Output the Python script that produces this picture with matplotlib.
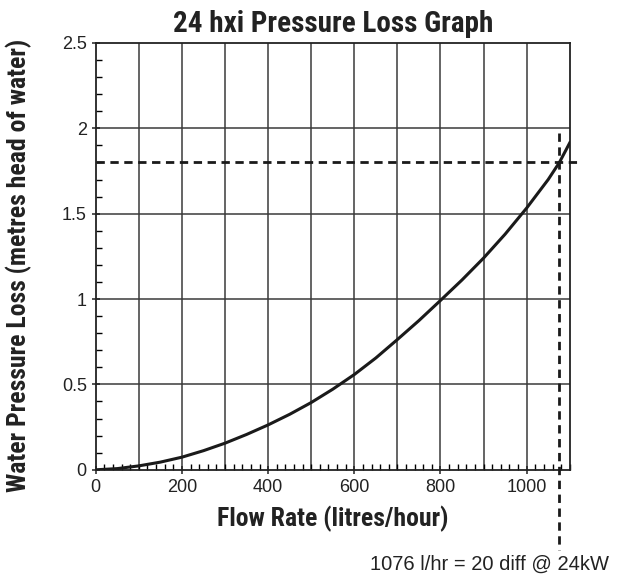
import matplotlib
matplotlib.use("Agg")
import matplotlib.pyplot as plt
from matplotlib.ticker import MultipleLocator, FormatStrFormatter

# values (flow in l/hr, loss in metres head of water)
flow = [0, 50, 100, 150, 200, 250, 300, 350, 400, 450, 500, 550, 600, 650, 700,
        750, 800, 850, 900, 950, 1000, 1050, 1076, 1100]
loss = [0, 0.007, 0.023, 0.045, 0.074, 0.112, 0.156, 0.207, 0.263, 0.325, 0.394,
        0.472, 0.558, 0.655, 0.763, 0.874, 0.992, 1.112, 1.24, 1.38, 1.533, 1.70,
        1.80, 1.915]

duty_flow = 1076
duty_loss = 1.8
note = "1076 l/hr = 20 diff @ 24kW"

bold_font = ["Roboto Condensed", "Roboto", "DejaVu Sans"]
plain_font = ["Liberation Sans", "DejaVu Sans"]

fig = plt.figure(figsize=(6.22, 5.8), dpi=100)
ax = fig.add_axes([0.154, 0.19, 0.762, 0.736])

ax.plot(flow, loss, color="#1a1a1a", linewidth=2.2, zorder=3)

# duty point dashed lines, both run past the plot frame
ax.plot([0, 1121], [duty_loss, duty_loss], color="#1a1a1a", linewidth=2,
        dashes=(3, 2), clip_on=False, zorder=3)
ax.plot([duty_flow, duty_flow], [1.97, -0.47], color="#1a1a1a", linewidth=2,
        dashes=(3, 2), clip_on=False, zorder=3)

ax.set_xlim(0, 1100)
ax.set_ylim(0, 2.5)
ax.xaxis.set_major_locator(MultipleLocator(200))
ax.xaxis.set_minor_locator(MultipleLocator(20))
ax.yaxis.set_major_locator(MultipleLocator(0.5))
ax.yaxis.set_minor_locator(MultipleLocator(0.1))
ax.yaxis.set_major_formatter(FormatStrFormatter("%g"))

# grid every 100 on x, every 0.5 on y
for gx in range(100, 1100, 100):
    ax.axvline(gx, color="#3a3a3a", linewidth=1.1, zorder=1)
for gy in [0.5, 1.0, 1.5, 2.0]:
    ax.axhline(gy, color="#3a3a3a", linewidth=1.1, zorder=1)

for s in ax.spines.values():
    s.set_linewidth(1.3)
    s.set_color("#222222")

ax.tick_params(which="major", direction="inout", length=6, width=1.1,
               labelsize=13, colors="#222222")
ax.tick_params(which="minor", direction="in", length=4, width=1)
ax.tick_params(which="both", top=False, right=False)
for lbl in ax.get_xticklabels() + ax.get_yticklabels():
    lbl.set_family(plain_font)

ax.set_xlabel("Flow Rate (litres/hour)", family=bold_font, fontweight="bold",
              fontsize=18.5, color="#222222", labelpad=7)
ax.set_ylabel("Water Pressure Loss (metres head of water)", family=bold_font,
              fontweight="bold", fontsize=18.5, color="#222222")
ax.yaxis.set_label_coords(-0.135, 0.48)
ax.set_title("24 hxi Pressure Loss Graph", family=bold_font, fontweight="bold",
             fontsize=21, color="#222222", pad=8)

fig.text(0.595, 0.018, note, family=plain_font, fontsize=14.5, color="#222222")

fig.savefig("out.png", dpi=100, facecolor="white")
